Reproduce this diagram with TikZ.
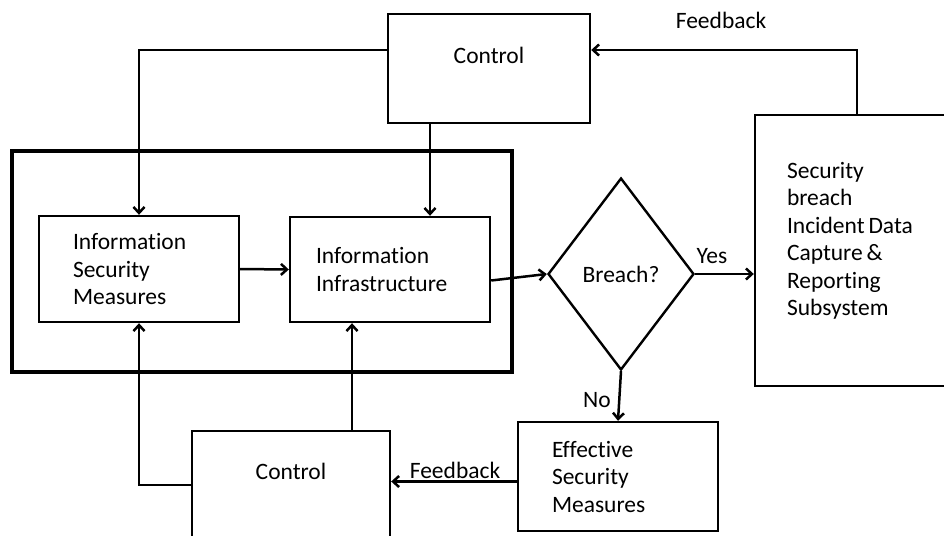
\documentclass[tikz,border=0pt]{standalone}
\usepackage{fontspec}
\setmainfont{Carlito}[Ligatures=NoCommon]
\usetikzlibrary{arrows.meta,shapes.geometric}

\begin{document}
\begin{tikzpicture}[x=1pt,y=-1pt,
   font=\fontsize{23.5pt}{27.5pt}\selectfont,
   box/.style={draw,line width=2.4pt,align=left,inner ysep=0pt},
   ctl/.style={draw,line width=2.4pt,text depth=27pt},
   arr/.style={line width=2.5pt,-{Straight Barb[length=6pt,width=11pt]}},
   lbl/.style={inner sep=0pt}]
   \path[use as bounding box,clip] (0,0) rectangle (944,535);
   \fill[white] (0,0) rectangle (944,535);

   % system boundary
   \node[draw,line width=3.8pt,minimum width=500pt,minimum height=221pt] (sys) at (262,261.5) {};

   \node[ctl,minimum width=202pt,minimum height=109pt] (c1) at (489,68.5) {Control};
   \node[ctl,minimum width=198pt,minimum height=108pt] (c2) at (291,485) {Control};
   \node[box,inner xsep=34pt,text width=132pt,minimum height=106pt] (ism) at (139,269) {Information\\Security\\Measures};
   \node[box,inner xsep=26pt,text width=148pt,minimum height=105pt] (inf) at (390,269.5) {Information\\Infrastructure};
   \node[draw,diamond,line width=2.4pt,inner sep=0pt,minimum width=146pt,minimum height=192pt] (bq) at (621,274) {Breach?};
   \node[box,inner xsep=32pt,text width=140pt,minimum height=271pt] (sec) at (857,250.5) {Security\\breach\\Incident\,Data\\Capture\,\&\\Reporting\\Subsystem\\[-4pt]\mbox{}};
   \node[box,inner xsep=34pt,text width=132pt,minimum height=109pt] (eff) at (618,476.5) {Effective\\Security\\Measures};

   \node[lbl] (fb1) at (721,20) {Feedback};
   \node[lbl] (fb2) at (455,470) {Feedback};
   \node[lbl] (yes) at (712,256.5) {Yes};
   \node[lbl] (no) at (597,400) {No};

   \draw[arr] ([yshift=18.5pt]c1.west) -| (ism.north);
   \draw[arr] ([xshift=-59pt]c1.south) -- ([xshift=-59pt]c1.south |- inf.north);
   \draw[arr] (ism.east) -- (inf.west);
   \draw[arr] ([yshift=-11pt]inf.east) -- (bq.west);
   \draw[arr] (bq.east) -- (bq.east -| sec.west);
   \draw[arr] (sec.north) |- ([yshift=18.5pt]c1.east);
   \draw[arr] (bq.south) -- (eff.north);
   \draw[arr] ([yshift=-5pt]eff.west) -- ([yshift=-5pt]eff.west -| c2.east);
   \draw[arr] ([xshift=61pt]c2.north) -- ([xshift=61pt]c2.north |- inf.south);
   \draw[arr] (c2.west) -| (ism.south);

\end{tikzpicture}
\end{document}
